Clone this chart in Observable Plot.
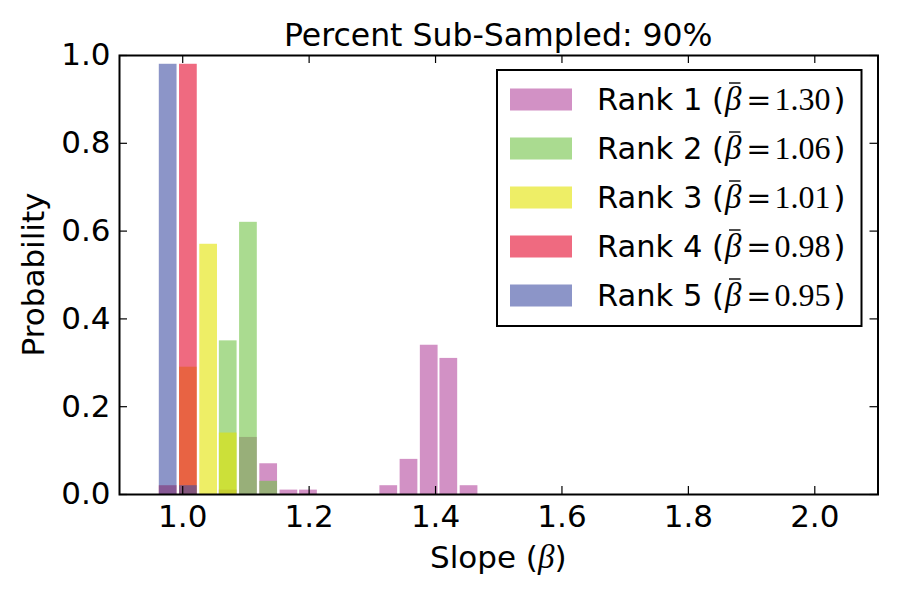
<!DOCTYPE html>
<html>
<head>
<meta charset="utf-8">
<script src="https://cdn.jsdelivr.net/npm/d3@7"></script>
<script src="https://cdn.jsdelivr.net/npm/@observablehq/plot@0.6"></script>
<style>
  body { margin: 0; background: #fff; }
  #chart { width: 900px; height: 600px; }
</style>
</head>
<body>
<div id="chart"></div>
<script>
// Histogram bins (bin centres on the slope axis) shared by every rank
const slopeBins = [0.977, 1.009, 1.041, 1.072, 1.104, 1.136, 1.168, 1.199, 1.326, 1.358, 1.390, 1.421, 1.453];
const binWidth = 0.0317;

// Probability per bin for each rank
const rank1Prob = [0, 0, 0, 0.01, 0.13, 0.07, 0.01, 0.01, 0.02, 0.08, 0.34, 0.31, 0.02];
const rank2Prob = [0, 0, 0, 0.35, 0.62, 0.03, 0, 0, 0, 0, 0, 0, 0];
const rank3Prob = [0, 0.29, 0.57, 0.14, 0, 0, 0, 0, 0, 0, 0, 0, 0];
const rank4Prob = [0.02, 0.98, 0, 0, 0, 0, 0, 0, 0, 0, 0, 0, 0];
const rank5Prob = [0.98, 0.02, 0, 0, 0, 0, 0, 0, 0, 0, 0, 0, 0];

const rankNames = ["Rank 1", "Rank 2", "Rank 3", "Rank 4", "Rank 5"];
const rankMeans = ["1.30", "1.06", "1.01", "0.98", "0.95"];
const rankColors = ["#b4489e", "#71c346", "#e3e300", "#e4072b", "#3f4ea3"];
const barOpacity = 0.6;

const xTicks = [1.0, 1.2, 1.4, 1.6, 1.8, 2.0];
const yTicks = [0.0, 0.2, 0.4, 0.6, 0.8, 1.0];

const titleText = "Percent Sub-Sampled: 90%";
const yLabelText = "Probability";

// Layout
const W = 900, H = 600;
const mTop = 55, mRight = 22.5, mBottom = 106, mLeft = 119;
const plotW = W - mLeft - mRight, plotH = H - mTop - mBottom;
const tickLen = 8;
const sans = "'DejaVu Sans', sans-serif";
const serif = "'Liberation Serif', 'DejaVu Serif', serif";

// Long-form table: one row per non-empty bar, drawn rank 1 first so later ranks sit on top
const allProbs = [rank1Prob, rank2Prob, rank3Prob, rank4Prob, rank5Prob];
const bars = [];
allProbs.forEach((probs, r) => {
  probs.forEach((p, i) => {
    if (p > 0) bars.push({rank: rankNames[r], slope: slopeBins[i], p});
  });
});

const chart = Plot.plot({
  width: W,
  height: H,
  marginTop: mTop,
  marginRight: mRight,
  marginBottom: mBottom,
  marginLeft: mLeft,
  style: {fontFamily: sans, fontSize: "31px", color: "black", background: "white"},
  x: {domain: [0.9, 2.1], label: null},
  y: {domain: [0, 1], label: null},
  color: {domain: rankNames, range: rankColors},
  marks: [
    Plot.rectY(bars, {
      x1: d => d.slope - binWidth / 2,
      x2: d => d.slope + binWidth / 2,
      y1: 0,
      y2: "p",
      fill: "rank",
      fillOpacity: barOpacity,
      insetLeft: 1.15,
      insetRight: 1.15
    }),
    // inward ticks on all four sides
    Plot.tickX(xTicks, {x: d => d, insetTop: plotH - tickLen, stroke: "black", strokeWidth: 1.2}),
    Plot.tickX(xTicks, {x: d => d, insetBottom: plotH - tickLen, stroke: "black", strokeWidth: 1.2}),
    Plot.tickY(yTicks, {y: d => d, insetRight: plotW - tickLen, stroke: "black", strokeWidth: 1.2}),
    Plot.tickY(yTicks, {y: d => d, insetLeft: plotW - tickLen, stroke: "black", strokeWidth: 1.2}),
    Plot.axisX(xTicks, {tickSize: 0, tickPadding: 10.7, tickFormat: d3.format(".1f"), fontSize: 31, label: null}),
    Plot.axisY(yTicks, {tickSize: 0, tickPadding: 9, tickFormat: d3.format(".1f"), fontSize: 31, label: null}),
    Plot.frame({stroke: "black", strokeWidth: 2})
  ]
});

document.getElementById("chart").appendChild(chart);

const svg = d3.select(chart);
const fx0 = mLeft, fx1 = W - mRight, fy0 = mTop, fy1 = H - mBottom;
const cx = (fx0 + fx1) / 2, cy = (fy0 + fy1) / 2;

// Title
svg.append("text")
  .attr("x", cx).attr("y", 46)
  .attr("text-anchor", "middle")
  .attr("font-family", sans).attr("font-size", 31.5)
  .attr("fill", "black")
  .text(titleText);

// x label: Slope (β)
const xl = svg.append("text")
  .attr("x", cx).attr("y", 568)
  .attr("text-anchor", "middle")
  .attr("font-family", sans).attr("font-size", 31)
  .attr("fill", "black");
xl.append("tspan").text("Slope (");
xl.append("tspan").attr("font-family", serif).attr("font-style", "italic").attr("font-size", 33).text("β");
xl.append("tspan").text(")");

// y label
svg.append("text")
  .attr("transform", `translate(44,${cy}) rotate(-90)`)
  .attr("text-anchor", "middle")
  .attr("font-family", sans).attr("font-size", 31)
  .attr("fill", "black")
  .text(yLabelText);

// Legend
const legX0 = 497, legX1 = fx1 - 16, legY0 = fy0 + 15, legY1 = 326;
const leg = svg.append("g").attr("text-anchor", "start");
leg.append("rect")
  .attr("x", legX0).attr("y", legY0)
  .attr("width", legX1 - legX0).attr("height", legY1 - legY0)
  .attr("fill", "white").attr("stroke", "black").attr("stroke-width", 2);

rankNames.forEach((name, r) => {
  const yc = 99.5 + 49 * r;
  leg.append("rect")
    .attr("x", 510).attr("y", yc - 11)
    .attr("width", 62).attr("height", 22)
    .attr("fill", rankColors[r]).attr("fill-opacity", barOpacity);
  const t = leg.append("text")
    .attr("x", 597).attr("y", yc + 10.5)
    .attr("text-anchor", "start")
    .attr("font-family", sans).attr("font-size", 30.5)
    .attr("fill", "black");
  t.append("tspan").text(name + " (");
  t.append("tspan").attr("font-family", serif).attr("font-style", "italic").attr("font-size", 33).attr("dx", 1).text("β");
  t.append("tspan").attr("font-family", "'DejaVu Serif', serif").attr("font-size", 30).attr("dx", 5).text("=");
  t.append("tspan").attr("font-family", serif).attr("font-size", 32).attr("dx", 3).text(rankMeans[r]);
  t.append("tspan").attr("dx", 3).text(")");
  // bar accent over β
  const tnode = t.node();
  const at = (name + " (").length;
  const s = tnode.getStartPositionOfChar(at);
  const e = tnode.getEndPositionOfChar(at);
  const bw = e.x - s.x;
  leg.append("line")
    .attr("x1", s.x + 0.25 * bw).attr("x2", s.x + 0.95 * bw)
    .attr("y1", s.y - 27).attr("y2", s.y - 27)
    .attr("stroke", "black").attr("stroke-width", 1.4);
});
</script>
</body>
</html>
